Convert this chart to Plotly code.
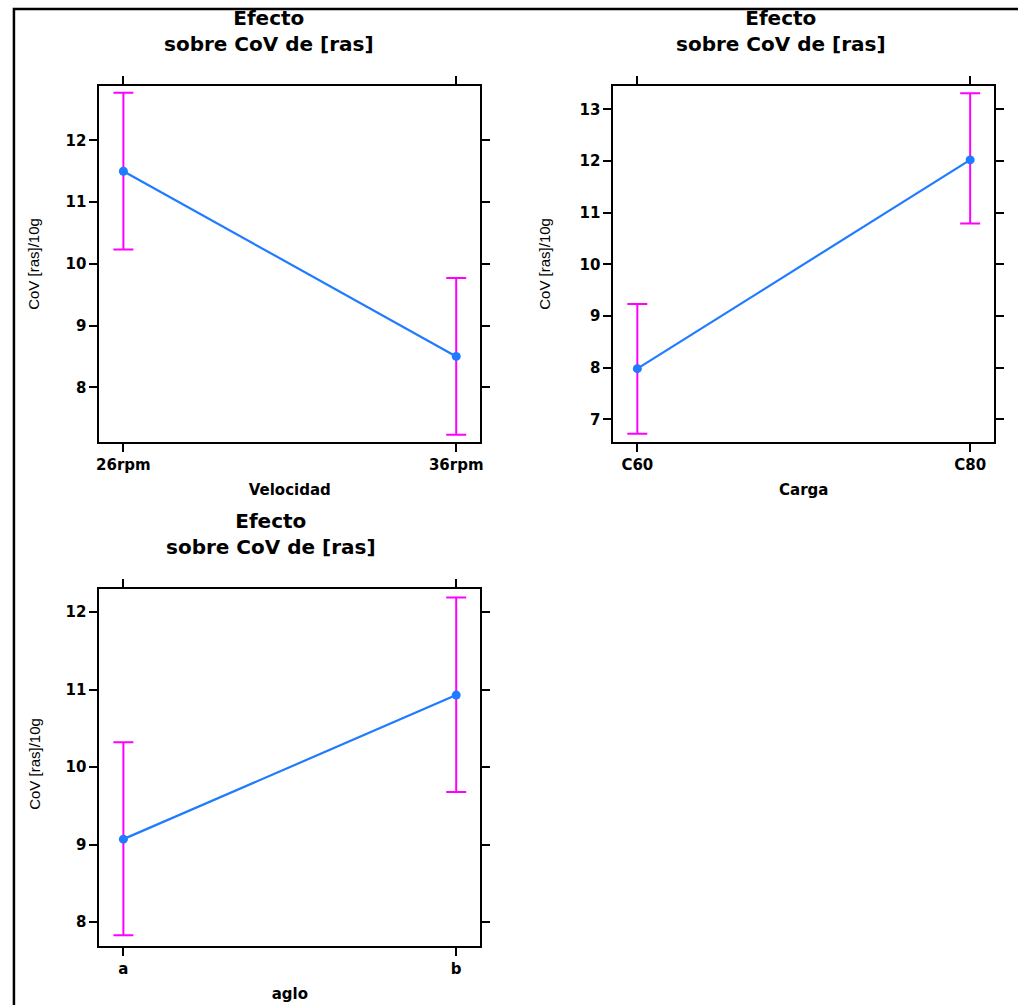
import plotly.graph_objects as go

# ---------------- data ----------------
vel_levels = ["26rpm", "36rpm"]
vel_mean = [11.50, 8.50]
vel_lower = [10.23, 7.23]
vel_upper = [12.77, 9.77]

carga_levels = ["C60", "C80"]
carga_mean = [7.98, 12.02]
carga_lower = [6.72, 10.79]
carga_upper = [9.23, 13.31]

aglo_levels = ["a", "b"]
aglo_mean = [9.07, 10.93]
aglo_lower = [7.83, 9.68]
aglo_upper = [10.32, 12.19]

title_text = "Efecto<br>sobre CoV de [ras]"
ytitle = "CoV [ras]/10g"
xtitles = ["Velocidad", "Carga", "aglo"]
yticks1 = [8, 9, 10, 11, 12]
yticks2 = [7, 8, 9, 10, 11, 12, 13]
yticks3 = [8, 9, 10, 11, 12]

W, H = 1018, 1005
BLUE = "#1f7bff"
MAG = "#ff00ff"
BOLD = "DejaVu Sans"

def px(x):
    return x / W

def py(y):
    return 1 - y / H

fig = go.Figure()

panels = [
    (vel_levels, vel_mean, vel_lower, vel_upper, "x", "y"),
    (carga_levels, carga_mean, carga_lower, carga_upper, "x2", "y2"),
    (aglo_levels, aglo_mean, aglo_lower, aglo_upper, "x3", "y3"),
]
for lv, m, lo, up, xa, ya in panels:
    fig.add_trace(go.Scatter(
        x=lv, y=m, xaxis=xa, yaxis=ya, mode="lines+markers",
        line=dict(color=BLUE, width=2.2),
        marker=dict(color=BLUE, size=9),
        error_y=dict(type="data", symmetric=False,
                     array=[u - v for u, v in zip(up, m)],
                     arrayminus=[v - l for v, l in zip(m, lo)],
                     color=MAG, thickness=2, width=10),
        showlegend=False, hoverinfo="skip",
    ))

def xaxis(domain, anchor, cats, title):
    return dict(domain=domain, anchor=anchor, type="category",
                categoryorder="array", categoryarray=cats,
                range=[-0.072, 1.072],
                showline=True, linecolor="black", linewidth=2, mirror="ticks",
                ticks="outside", ticklen=8, tickwidth=2, tickcolor="black",
                showgrid=False, zeroline=False,
                tickfont=dict(family=BOLD, size=15, color="black", weight="bold"),
                title=dict(text=title, standoff=11,
                           font=dict(family=BOLD, size=15, color="black", weight="bold")))

def yaxis(domain, anchor, rng, tv):
    return dict(domain=domain, anchor=anchor, range=rng,
                tickmode="array", tickvals=tv, ticktext=[str(t) for t in tv],
                showline=True, linecolor="black", linewidth=2, mirror="ticks",
                ticks="outside", ticklen=8, tickwidth=2, tickcolor="black",
                showgrid=False, zeroline=False,
                tickfont=dict(family=BOLD, size=15, color="black", weight="bold"))

xd1 = [px(97), px(480)]
xd2 = [px(614), px(997)]
yd_top = [py(442), py(86)]
yd_bot = [py(946), py(589)]

fig.update_layout(
    width=W, height=H,
    margin=dict(l=0, r=0, t=0, b=0),
    paper_bgcolor="white", plot_bgcolor="white",
    xaxis=xaxis(xd1, "y", vel_levels, xtitles[0]),
    yaxis=yaxis(yd_top, "x", [7.114, 12.88], yticks1),
    xaxis2=xaxis(xd2, "y2", carga_levels, xtitles[1]),
    yaxis2=yaxis(yd_top, "x2", [6.56, 13.45], yticks2),
    xaxis3=xaxis(xd1, "y3", aglo_levels, xtitles[2]),
    yaxis3=yaxis(yd_bot, "x3", [7.69, 12.30], yticks3),
)

ann = []
for cx, cy in [(268, 31), (783, 31), (270, 534)]:
    ann.append(dict(x=px(cx), y=py(cy), xref="paper", yref="paper",
                    text=title_text, showarrow=False, xanchor="center", yanchor="middle",
                    font=dict(family=BOLD, size=20, color="black", weight="bold"),
                    align="center"))
for cx, cy in [(30, 264), (544, 264), (31, 764)]:
    ann.append(dict(x=px(cx), y=py(cy), xref="paper", yref="paper",
                    text=ytitle, showarrow=False, textangle=-90,
                    xanchor="center", yanchor="middle",
                    font=dict(family="Liberation Sans", size=15, color="black")))
fig.update_layout(annotations=ann)

# outer frame
fig.add_shape(type="rect", xref="paper", yref="paper",
              x0=px(11), y0=py(1030), x1=px(1040), y1=py(9),
              line=dict(color="black", width=2.5), fillcolor="rgba(0,0,0,0)")

fig.write_html("out.html",
               config={"displayModeBar": False, "staticPlot": True},
               post_script="document.body.style.margin='0px';document.body.style.overflow='hidden';")
